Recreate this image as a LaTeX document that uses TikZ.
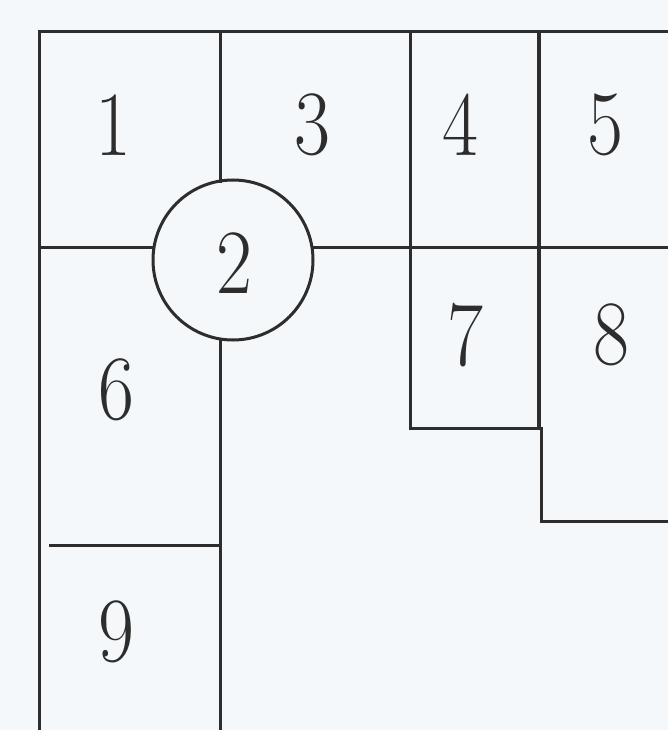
\documentclass[tikz,border=0pt]{standalone}
\usepackage{graphicx}
\definecolor{bgc}{RGB}{245,248,250}
\definecolor{ln}{RGB}{45,45,45}
\begin{document}
\begin{tikzpicture}[x=1pt,y=-1pt,
  wall/.style={draw=ln,line width=3pt,line cap=rect},
  num/.style={text=ln,inner sep=0pt,font=\fontsize{92}{92}\selectfont}]
\fill[bgc] (0,0) rectangle (668,730);
\useasboundingbox (0,0) rectangle (668,730);
\draw[wall] (39,730) -- (39,32) -- (668,32);
\draw[wall] (220,32) -- (220,181);
\draw[wall] (220,339) -- (220,730);
\draw[wall] (410,32) -- (410,428) -- (541,428);
\draw[wall,line width=3.6pt] (539,32) -- (539,428);
\draw[wall] (541,428) -- (541,521) -- (668,521);
\draw[wall] (39,247) -- (153,247);
\draw[wall] (313,247) -- (668,247);
\draw[wall] (50,545) -- (220,545);
\node[draw=ln,line width=3pt,circle,minimum size=160pt,inner sep=0pt] (c2) at (233,260) {};
\node[num] (n2) at (234,263) {\scalebox{0.85}[1]{2}};
\node[num] (n1) at (113,125) {\scalebox{0.85}[1]{1}};
\node[num] (n3) at (312,125) {\scalebox{0.85}[1]{3}};
\node[num] (n4) at (460,125) {\scalebox{0.85}[1]{4}};
\node[num] (n5) at (605,125) {\scalebox{0.85}[1]{5}};
\node[num] (n7) at (465,335) {\scalebox{0.85}[1]{7}};
\node[num] (n8) at (611,335) {\scalebox{0.85}[1]{8}};
\node[num] (n6) at (116,390) {\scalebox{0.85}[1]{6}};
\node[num] (n9) at (116,632) {\scalebox{0.85}[1]{9}};
\end{tikzpicture}
\end{document}
